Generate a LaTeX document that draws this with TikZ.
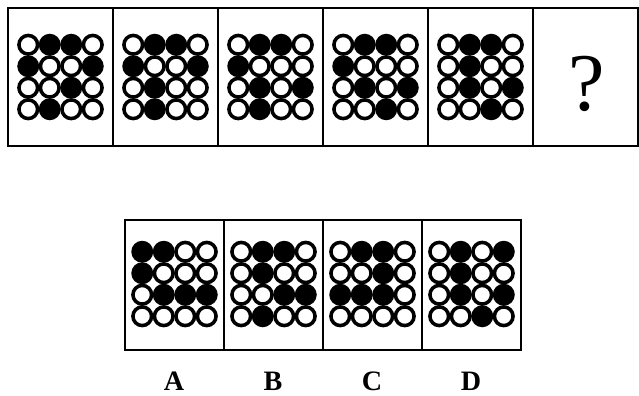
\documentclass[tikz,border=0pt]{standalone}
\usepackage{fontspec}
\setmainfont{Liberation Serif}
\begin{document}
\begin{tikzpicture}[x=0.03cm, y=-0.03cm]
\useasboundingbox (0,0) rectangle (639,396);
\draw[line width=1.6pt] (8,8) rectangle (638,146);
\foreach \x in {113,218,323,428,533} \draw[line width=1pt] (\x,8) -- (\x,146);
\draw[line width=1.6pt] (125,220) rectangle (521,350);
\foreach \x in {224,323,422} \draw[line width=1pt] (\x,220) -- (\x,350);
\foreach \cx/\cy/\bits in {
  60.5/77/{0,1,1,0, 1,0,0,1, 0,0,1,0, 0,1,0,0},
  165.5/77/{0,1,1,0, 1,0,0,1, 0,1,0,0, 0,1,0,0},
  270.5/77/{0,1,1,0, 1,0,0,0, 0,1,0,1, 0,1,0,0},
  375.5/77/{0,1,1,0, 1,0,0,0, 0,1,0,1, 0,0,1,0},
  480.5/77/{0,1,1,0, 0,1,0,0, 0,1,0,1, 0,0,1,0},
  174.5/284/{1,1,0,0, 1,0,0,0, 0,1,1,1, 0,0,0,0},
  273.5/284/{0,1,1,0, 0,1,0,0, 0,0,1,1, 0,1,0,0},
  372.5/284/{0,1,1,0, 0,0,1,0, 1,1,1,0, 0,0,0,0},
  471.5/284/{0,1,0,1, 0,1,0,0, 0,1,0,1, 0,0,1,0}} {
  \foreach \b [count=\i from 0] in \bits {
    \pgfmathtruncatemacro\row{\i/4}
    \pgfmathtruncatemacro\col{mod(\i,4)}
    \ifnum\b=1
      \fill ({\cx+(\col-1.5)*21.5},{\cy+(\row-1.5)*21.5}) circle[radius=0.33cm];
    \else
      \draw[line width=3pt, fill=white] ({\cx+(\col-1.5)*21.5},{\cy+(\row-1.5)*21.5}) circle[radius=0.28cm];
    \fi
  }
}
\node[inner sep=0, font=\fontsize{70}{70}\selectfont] (ask) at (587,84) {?};
\foreach \l [count=\k] in {A,B,C,D}
  \node[inner sep=0, font=\bfseries\fontsize{24}{24}\selectfont] (lab\l) at ({75+99*\k},381) {\l};
\end{tikzpicture}
\end{document}
